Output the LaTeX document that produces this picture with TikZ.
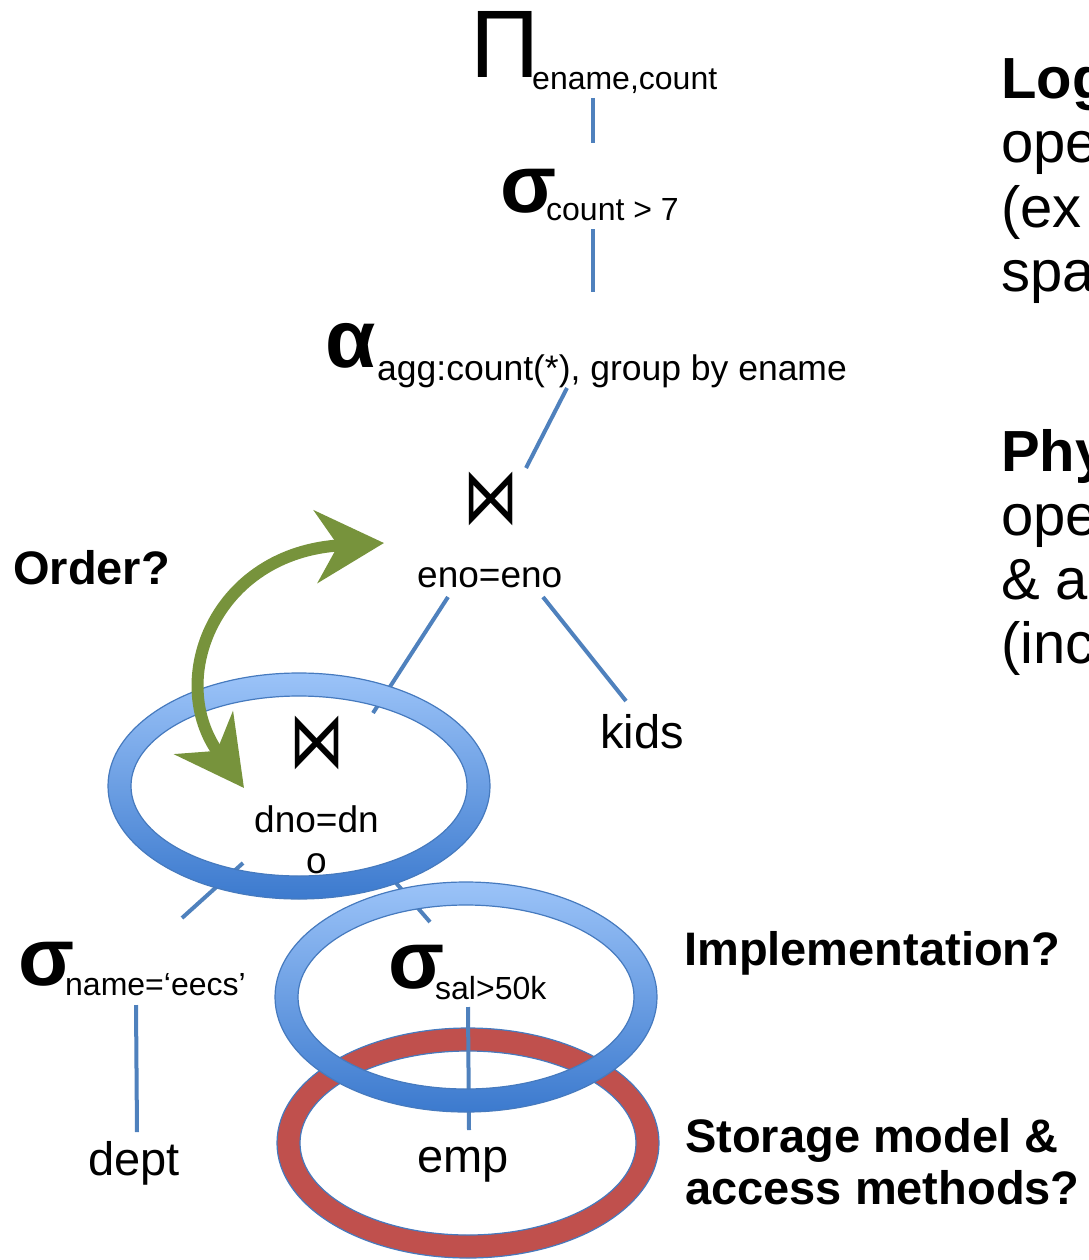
\documentclass[tikz,border=0pt]{standalone}
\usepackage{fontspec}
\usepackage{graphicx}
\setmainfont{Liberation Sans}
\newfontfamily\symfont{DejaVu Sans}
\usetikzlibrary{arrows.meta}
\definecolor{treeline}{RGB}{79,129,189}
\definecolor{ringtop}{RGB}{155,195,248}
\definecolor{ringbot}{RGB}{60,122,206}
\definecolor{ringedge}{RGB}{70,122,190}
\definecolor{ringred}{RGB}{192,80,77}
\definecolor{arrowgreen}{RGB}{119,147,60}
\newcommand{\joinglyph}{\scalebox{0.95}[1.35]{⋈}}
\begin{document}
\begin{tikzpicture}[x=1pt,y=-1pt,
  edge/.style={draw=treeline, line width=4pt},
  txt/.style={inner sep=0pt, anchor=base west, text=black},
  greek/.style={txt, font=\fontsize{82}{82}\selectfont\bfseries},
  bigpi/.style={txt, font=\fontsize{96}{96}\selectfont},
  subs/.style={txt, font=\fontsize{32}{32}\selectfont},
  cond/.style={txt, font=\fontsize{37}{37}\selectfont},
  rel/.style={txt, font=\fontsize{47}{47}\selectfont},
  question/.style={txt, font=\fontsize{47}{52}\selectfont\bfseries},
  sidetext/.style={txt, font=\fontsize{58}{58}\selectfont},
  sidehead/.style={sidetext, font=\fontsize{58}{58}\selectfont\bfseries},
  joinsym/.style={inner sep=0pt, anchor=center, font=\symfont\fontsize{58}{58}\selectfont},
  ringline/.style={draw=ringedge, line width=1.2pt},
  swap/.style={draw=arrowgreen, line width=12pt,
    {Stealth[length=68pt,width=72pt,inset=22pt]}-{Stealth[length=68pt,width=72pt,inset=22pt]}},
]
\useasboundingbox (0,0) rectangle (1088,1260);
\clip (0,0) rectangle (1088,1260);

% ---------- operator tree ----------
\node[bigpi] (proj) at (470,78) {Π};
\node[subs] (projsub) at (532,90) {ename,count};
\node[greek] (selc) at (500,212) {σ};
\node[subs] (selcsub) at (546,220) {count > 7};
\node[greek] (agg) at (325,367) {α};
\node[txt, font=\fontsize{35.5}{35.5}\selectfont] (aggsub) at (377,380) {agg:count(*), group by ename};
\node[joinsym] (joinA) at (491,499) {\joinglyph};
\node[cond] (joinAcond) at (417,587) {eno=eno};
\node[rel] (kids) at (600,748) {kids};
\node[joinsym] (joinB) at (317,743) {\joinglyph};
\node[cond] (joinBcond) at (254,832) {dno=dn};
\node[cond] (joinBcondb) at (306,873) {o};
\node[greek] (seln) at (18,985) {σ};
\node[subs] (selnsub) at (65,995) {name=‘eecs’};
\node[greek] (sels) at (388,988) {σ};
\node[subs] (selssub) at (435,999) {sal>50k};
\node[rel] (dept) at (88,1175) {dept};
\node[rel] (emp) at (417,1172) {emp};

% connector end points
\coordinate (projB) at (593,98);   \coordinate (selcT) at (593,143);
\coordinate (selcB) at (593,229);  \coordinate (aggT) at (593,292);
\coordinate (aggB) at (567,388);   \coordinate (joinAT) at (526,468);
\coordinate (joinAL) at (448,597); \coordinate (joinBT) at (373,713);
\coordinate (joinAR) at (543,597); \coordinate (kidsT) at (626,701);
\coordinate (joinBL) at (243,863); \coordinate (selnT) at (182,918);
\coordinate (joinBR) at (383,868); \coordinate (selsT) at (430,922);
\coordinate (selnB) at (136,1005); \coordinate (deptT) at (137,1132);
\coordinate (selsB) at (468,1007); \coordinate (empT) at (469,1130);

\draw[edge] (projB) -- (selcT);
\draw[edge] (selcB) -- (aggT);
\draw[edge] (aggB) -- (joinAT);
\draw[edge] (joinAL) -- (joinBT);
\draw[edge] (joinAR) -- (kidsT);
\draw[edge] (joinBL) -- (selnT);
\draw[edge] (joinBR) -- (selsT);
\draw[edge] (selnB) -- (deptT);

% ---------- storage ring (red) ----------
\coordinate (storc) at (468,1143);
\fill[ringred, even odd rule] (storc) ellipse [x radius=191pt, y radius=115pt]
  (storc) ellipse [x radius=168pt, y radius=92pt];
\draw[ringline] (storc) ellipse [x radius=191pt, y radius=115pt]
  (storc) ellipse [x radius=168pt, y radius=92pt];

\draw[edge] (selsB) -- (empT);

% ---------- implementation ring around the selection ----------
\coordinate (implc) at (466,997);
\shade[top color=ringtop, bottom color=ringbot, even odd rule]
  (implc) ellipse [x radius=191pt, y radius=115pt]
  (implc) ellipse [x radius=168pt, y radius=92pt];
\draw[ringline] (implc) ellipse [x radius=191pt, y radius=115pt]
  (implc) ellipse [x radius=168pt, y radius=92pt];

% ---------- implementation ring around the lower join ----------
\coordinate (joinc) at (299,786);
\shade[top color=ringtop, bottom color=ringbot, even odd rule]
  (joinc) ellipse [x radius=191pt, y radius=113pt]
  (joinc) ellipse [x radius=168pt, y radius=90pt];
\draw[ringline] (joinc) ellipse [x radius=191pt, y radius=113pt]
  (joinc) ellipse [x radius=168pt, y radius=90pt];

% ---------- join order arrow ----------
\coordinate (swapA) at (384,543);
\coordinate (swapB) at (244,788);
\draw[swap] (swapA) .. controls (215,552) and (165,680) .. (swapB);

% ---------- questions ----------
\node[question] (order) at (13,584) {Order?};
\node[question] (impl) at (684,965) {Implementation?};
\node[question] (stor) at (685,1152) {Storage model \&};
\node[question] (storb) at (685,1204) {access methods?};

% ---------- side notes ----------
\node[sidehead] (logA) at (1001,99) {Log};
\node[sidetext] (logB) at (1001,163) {ope};
\node[sidetext] (logC) at (1001,227) {(ex};
\node[sidetext] (logD) at (1001,291) {spa};
\node[sidehead] (phyA) at (1001,471) {Phy};
\node[sidetext] (phyB) at (1001,535) {ope};
\node[sidetext] (phyC) at (1001,599) {\& a};
\node[sidetext] (phyD) at (1001,663) {(inc};
\end{tikzpicture}
\end{document}
